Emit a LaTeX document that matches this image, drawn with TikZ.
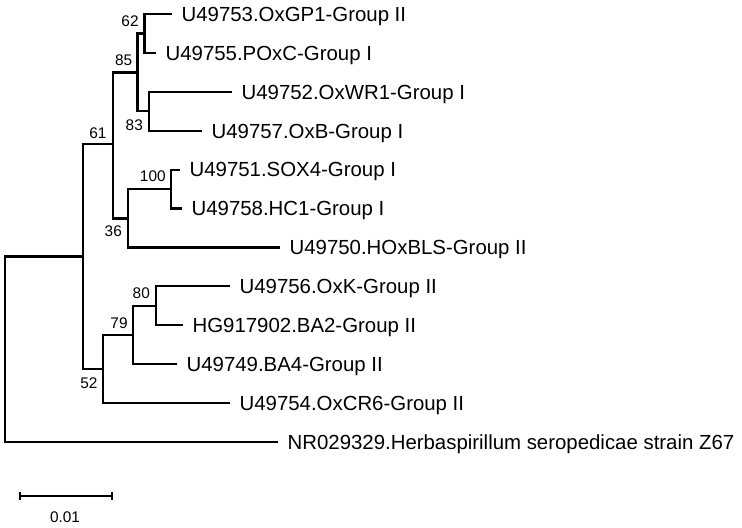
\documentclass[tikz,border=0pt]{standalone}
\usepackage{fontspec}
\setmainfont{Liberation Sans}
\usetikzlibrary{arrows.meta}

\begin{document}
\begin{tikzpicture}[
  x=0.5pt, y=-0.5pt,
  br/.style={line width=1.1pt, black},
  leaf/.style={anchor=west, font=\fontsize{10.2}{12}\selectfont, inner xsep=4.6pt,
               inner ysep=0pt, text height=7.3pt, text depth=0pt},
  boot/.style={font=\fontsize{7.7}{9}\selectfont, inner sep=0pt,
               text height=5.5pt, text depth=0pt},
  scalebar/.style={line width=1.1pt, {Bar[width=3.6pt]}-{Bar[width=3.6pt]}},
]
\useasboundingbox (0,0) rectangle (742,527);

% --- leaves ---
\node[leaf] (l1)  at (172,14)    {U49753.OxGP1-Group II};
\node[leaf] (l2)  at (156,52.9)  {U49755.POxC-Group I};
\node[leaf] (l3)  at (232,91.8)  {U49752.OxWR1-Group I};
\node[leaf] (l4)  at (202,130.7) {U49757.OxB-Group I};
\node[leaf] (l5)  at (180,169.6) {U49751.SOX4-Group I};
\node[leaf] (l6)  at (182,208.5) {U49758.HC1-Group I};
\node[leaf] (l7)  at (280,247.4) {U49750.HOxBLS-Group II};
\node[leaf] (l8)  at (230,286.3) {U49756.OxK-Group II};
\node[leaf] (l9)  at (183,325.2) {HG917902.BA2-Group II};
\node[leaf] (l10) at (177,364.1) {U49749.BA4-Group II};
\node[leaf] (l11) at (230,403)   {U49754.OxCR6-Group II};
\node[leaf] (l12) at (278,441.9) {NR029329.Herbaspirillum seropedicae strain Z67};

% --- internal nodes ---
\coordinate (n62)  at (144.5,33.5);
\coordinate (n83)  at (149,111.3);
\coordinate (n85)  at (137.5,72.4);
\coordinate (n100) at (171,189);
\coordinate (n36)  at (128,218.5);
\coordinate (n61)  at (113,144);
\coordinate (n80)  at (156,305.8);
\coordinate (n79)  at (133.3,335);
\coordinate (n52)  at (103.3,369);
\coordinate (nin)  at (83,256.5);
\coordinate (root) at (5,349);

% --- branches ---
\draw[br] (l1.west) -| (n62) |- (l2.west);
\draw[br] (l3.west) -| (n83) |- (l4.west);
\draw[br] (n62) -| (n85) |- (n83);
\draw[br] (l5.west) -| (n100) |- (l6.west);
\draw[br] (n100) -| (n36) |- (l7.west);
\draw[br] (n85) -| (n61) |- (n36);
\draw[br] (l8.west) -| (n80) |- (l9.west);
\draw[br] (n80) -| (n79) |- (l10.west);
\draw[br] (n79) -| (n52) |- (l11.west);
\draw[br] (n61) -| (nin) |- (n52);
\draw[br] (nin) -| (root) |- (l12.west);

% --- bootstrap values ---
\node[boot] (b62)  at (130,20.5)    {62};
\node[boot] (b85)  at (123.7,60)    {85};
\node[boot] (b83)  at (134.3,125.2) {83};
\node[boot] (b61)  at (98,132.7)    {61};
\node[boot] (b100) at (152.8,175.5) {100};
\node[boot] (b36)  at (113.3,230.8) {36};
\node[boot] (b80)  at (141.3,292.5) {80};
\node[boot] (b79)  at (119,322.5)   {79};
\node[boot] (b52)  at (89,383.3)    {52};

% --- scale ---
\coordinate (sbl) at (19,496);
\coordinate (sbr) at (113,496);
\draw[scalebar] (sbl) -- (sbr);
\node[boot] (sbt) at (65,517) {0.01};

\end{tikzpicture}
\end{document}
